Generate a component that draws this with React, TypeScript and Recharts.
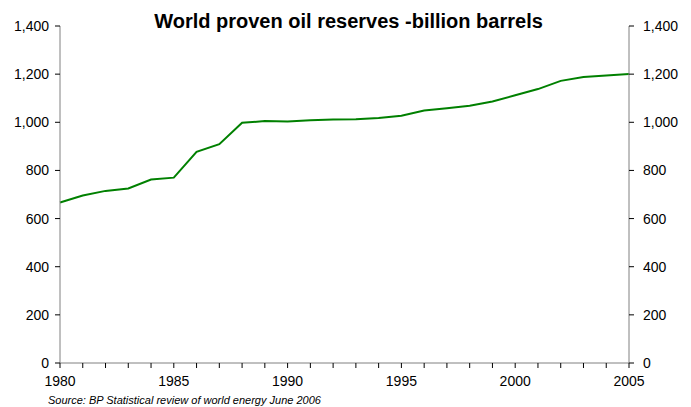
import React from "react";
import { LineChart, Line, XAxis, YAxis } from "recharts";

const years = [1980, 1981, 1982, 1983, 1984, 1985, 1986, 1987, 1988, 1989, 1990, 1991, 1992, 1993, 1994, 1995, 1996, 1997, 1998, 1999, 2000, 2001, 2002, 2003, 2004, 2005];
const reserves = [667, 696, 715, 725, 762, 770, 877, 909, 998, 1005, 1003, 1008, 1012, 1013, 1018, 1027, 1049, 1058, 1069, 1086, 1112, 1138, 1172, 1188, 1194, 1201];
const yTicks = [0, 200, 400, 600, 800, 1000, 1200, 1400];
const labelYears = [1980, 1985, 1990, 1995, 2000, 2005];

const title = "World proven oil reserves -billion barrels";
const source = "Source: BP Statistical review of world energy June 2006";

const data = years.map((y, i) => ({ year: y, value: reserves[i] }));

const fmt = (v: number) => v.toLocaleString("en-US");
const font = "'Liberation Sans', Arial, sans-serif";

export default function App() {
  return (
    <div style={{ position: "absolute", left: 0, top: 0, width: 691, height: 407, background: "#fff", fontFamily: font, overflow: "hidden" }}>
      <LineChart width={691} height={407} data={data} margin={{ top: 26, right: 0, bottom: 0, left: 0 }}>
        <XAxis
          dataKey="year"
          type="number"
          domain={[1980, 2005]}
          ticks={years}
          interval={0}
          tickFormatter={(v: number) => (labelYears.includes(v) ? String(v) : "")}
          height={44}
          tickSize={5}
          tickMargin={8}
          stroke="#808080"
          tick={{ fill: "#000", fontSize: 14, fontFamily: font }}
          tickLine={{ stroke: "#000" }}
        />
        <YAxis
          yAxisId="left"
          orientation="left"
          domain={[0, 1400]}
          ticks={yTicks}
          width={60}
          tickSize={5}
          tickMargin={6}
          tickFormatter={fmt}
          stroke="#808080"
          tick={{ fill: "#000", fontSize: 14, fontFamily: font }}
          tickLine={{ stroke: "#000" }}
        />
        <YAxis
          yAxisId="right"
          orientation="right"
          domain={[0, 1400]}
          ticks={yTicks}
          width={62}
          tickSize={5}
          tickMargin={9}
          tickFormatter={fmt}
          stroke="#808080"
          tick={{ fill: "#000", fontSize: 14, fontFamily: font }}
          tickLine={{ stroke: "#000" }}
        />
        <Line yAxisId="right" type="linear" dataKey="value" stroke="none" strokeWidth={0} dot={false} activeDot={false} isAnimationActive={false} />
        <Line yAxisId="left" type="linear" dataKey="value" stroke="#008000" strokeWidth={2} dot={false} isAnimationActive={false} />
      </LineChart>
      <div style={{ position: "absolute", left: 0, width: 691, top: 10, textAlign: "center", fontWeight: "bold", fontSize: 20, color: "#000", paddingLeft: 6, boxSizing: "border-box" }}>
        {title}
      </div>
      <div style={{ position: "absolute", left: 48, top: 394, fontStyle: "italic", fontSize: 11, color: "#000", whiteSpace: "nowrap" }}>
        {source}
      </div>
    </div>
  );
}
